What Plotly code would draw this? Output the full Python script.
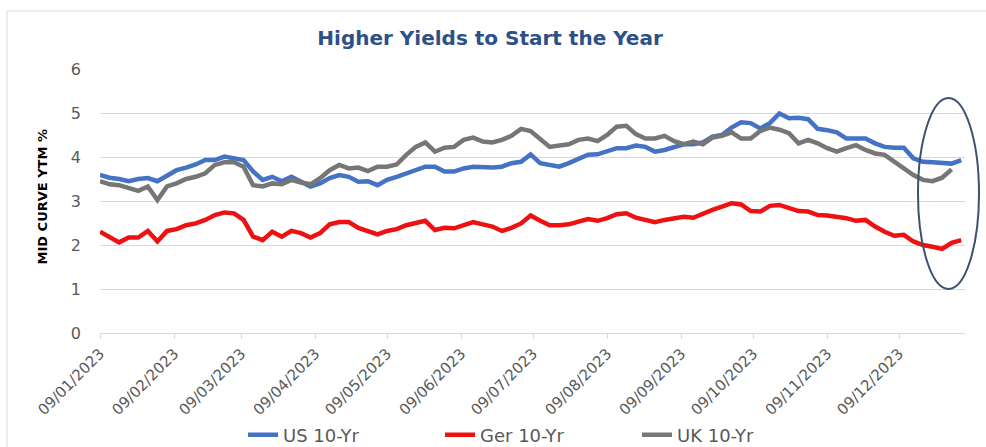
import pandas as pd
import plotly.graph_objects as go

# Observation dates (every 4 days from 9 Jan 2023)
dates = pd.date_range("2023-01-09", periods=91, freq="4D")

us_10y = [
    3.59, 3.53, 3.50, 3.45, 3.50, 3.52, 3.45, 3.59, 3.70, 3.76,
    3.83, 3.93, 3.93, 4.01, 3.97, 3.93, 3.67, 3.48, 3.55, 3.45,
    3.55, 3.45, 3.33, 3.40, 3.52, 3.59, 3.55, 3.44, 3.45, 3.36,
    3.48, 3.55, 3.63, 3.70, 3.78, 3.78, 3.67, 3.67, 3.74, 3.78,
    3.76, 3.76, 3.78, 3.86, 3.89, 4.06, 3.86, 3.82, 3.78, 3.86,
    3.95, 4.05, 4.06, 4.12, 4.20, 4.20, 4.26, 4.23, 4.12, 4.16,
    4.23, 4.29, 4.29, 4.33, 4.46, 4.50, 4.67, 4.79, 4.77, 4.65,
    4.77, 4.99, 4.88, 4.89, 4.86, 4.64, 4.61, 4.56, 4.42, 4.42,
    4.42, 4.31, 4.23, 4.21, 4.21, 3.97, 3.89, 3.88, 3.86, 3.85,
    3.93,
]

ger_10y = [
    2.30, 2.19, 2.06, 2.17, 2.17, 2.32, 2.08, 2.32, 2.36, 2.45,
    2.49, 2.57, 2.68, 2.74, 2.72, 2.57, 2.19, 2.11, 2.30, 2.19,
    2.32, 2.27, 2.17, 2.27, 2.47, 2.52, 2.52, 2.39, 2.32, 2.24,
    2.32, 2.36, 2.45, 2.49, 2.55, 2.34, 2.39, 2.38, 2.44, 2.52,
    2.47, 2.42, 2.32, 2.39, 2.49, 2.67, 2.55, 2.45, 2.45, 2.47,
    2.53, 2.59, 2.55, 2.61, 2.70, 2.72, 2.62, 2.57, 2.52, 2.57,
    2.61, 2.64, 2.62, 2.72, 2.80, 2.87, 2.95, 2.92, 2.77, 2.76,
    2.89, 2.91, 2.85, 2.77, 2.76, 2.68, 2.67, 2.64, 2.61, 2.55,
    2.57, 2.42, 2.30, 2.21, 2.23, 2.08, 2.00, 1.96, 1.91, 2.05,
    2.11,
]

uk_10y = [
    3.45, 3.38, 3.36, 3.29, 3.23, 3.33, 3.02, 3.33, 3.40, 3.50,
    3.55, 3.63, 3.82, 3.88, 3.88, 3.78, 3.36, 3.33, 3.40, 3.38,
    3.48, 3.42, 3.38, 3.52, 3.70, 3.82, 3.74, 3.76, 3.68, 3.78,
    3.78, 3.83, 4.05, 4.23, 4.33, 4.12, 4.21, 4.23, 4.39, 4.44,
    4.35, 4.33, 4.39, 4.48, 4.64, 4.59, 4.42, 4.23, 4.26, 4.29,
    4.39, 4.42, 4.36, 4.50, 4.69, 4.71, 4.52, 4.42, 4.42, 4.48,
    4.36, 4.29, 4.35, 4.29, 4.44, 4.48, 4.56, 4.42, 4.42, 4.59,
    4.67, 4.62, 4.54, 4.31, 4.39, 4.31, 4.20, 4.12, 4.20, 4.27,
    4.16, 4.08, 4.05, 3.89, 3.74, 3.59, 3.48, 3.45, 3.53, 3.72,
    None,
]

series_names = ["US 10-Yr", "Ger 10-Yr", "UK 10-Yr"]
series_colors = ["#4472C4", "#EE1111", "#767676"]

tick_labels = [
    "09/01/2023", "09/02/2023", "09/03/2023", "09/04/2023",
    "09/05/2023", "09/06/2023", "09/07/2023", "09/08/2023",
    "09/09/2023", "09/10/2023", "09/11/2023", "09/12/2023",
]
tick_dates = pd.to_datetime(tick_labels, format="%d/%m/%Y")

FONT = "DejaVu Sans"

fig = go.Figure()
for name, vals, color in zip(series_names, [us_10y, ger_10y, uk_10y], series_colors):
    fig.add_trace(go.Scatter(
        x=dates, y=vals, name=name, mode="lines",
        line=dict(color=color, width=4.5),
        connectgaps=False,
    ))

fig.update_layout(
    template="none",
    width=986, height=447,
    margin=dict(l=100, r=21, t=69, b=114, autoexpand=False),
    paper_bgcolor="white",
    plot_bgcolor="white",
    font=dict(family=FONT, color="#595959"),
    title=dict(
        text="<b>Higher Yields to Start the Year</b>",
        font=dict(family=FONT, size=20, color="#2E5088"),
        x=0.497, xref="container", xanchor="center",
        y=1 - 38 / 447, yref="container", yanchor="middle",
    ),
    showlegend=True,
    legend=dict(
        orientation="h",
        x=(243 - 100) / 865, xanchor="left",
        y=(333 - 435) / 264, yanchor="middle",
        font=dict(family=FONT, size=18, color="#595959"),
        entrywidth=152, entrywidthmode="pixels",
        bgcolor="rgba(0,0,0,0)",
    ),
)

fig.update_xaxes(
    type="date",
    range=[pd.Timestamp("2023-01-09"), pd.Timestamp("2024-01-05 14:00")],
    tickmode="array", tickvals=tick_dates, ticktext=tick_labels,
    tickangle=-45,
    tickfont=dict(family=FONT, size=15, color="#595959"),
    showgrid=False, zeroline=False,
    showline=True, linecolor="#D9D9D9", linewidth=1,
    ticks="outside", ticklen=5, tickcolor="#D9D9D9",
    automargin=False,
)

fig.update_yaxes(
    range=[0, 6], dtick=1, tick0=0,
    tickfont=dict(family=FONT, size=16, color="#595959"),
    showgrid=True, gridcolor="#D9D9D9", gridwidth=1,
    zeroline=False, showline=False, ticks="",
    ticklabelstandoff=18,
    automargin=False,
)

# Y-axis title
fig.add_annotation(
    text="<b>MID CURVE YTM %</b>",
    xref="paper", yref="paper",
    x=(32 - 100) / 865, y=(333 - 197) / 264,
    textangle=-90, showarrow=False,
    font=dict(family=FONT, size=13, color="#000000"),
)

# Highlight ring around the latest readings
fig.add_shape(
    type="circle", xref="paper", yref="paper",
    x0=(918 - 100) / 865, x1=(979 - 100) / 865,
    y0=(333 - 289) / 264, y1=(333 - 98) / 264,
    line=dict(color="#3D5170", width=2),
)

# Chart frame
fig.add_shape(
    type="rect", xref="paper", yref="paper",
    x0=(7 - 100) / 865, x1=(995 - 100) / 865,
    y0=(333 - 460) / 264, y1=(333 - 11) / 264,
    line=dict(color="#D9D9D9", width=1),
    layer="below",
)

fig.write_html("out.html")
